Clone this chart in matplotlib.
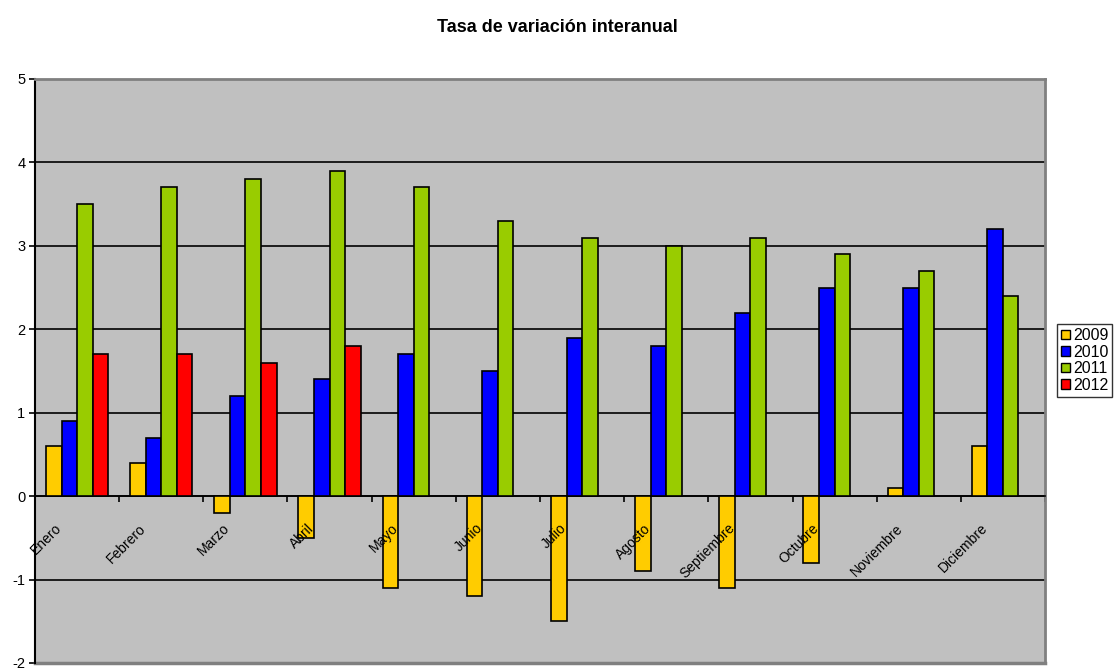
import numpy as np
import matplotlib.pyplot as plt
from matplotlib.patches import Patch

plt.rcParams['font.family'] = ['Liberation Sans', 'DejaVu Sans']
plt.rcParams['axes.unicode_minus'] = False

meses = ['Enero', 'Febrero', 'Marzo', 'Abril', 'Mayo', 'Junio', 'Julio',
         'Agosto', 'Septiembre', 'Octubre', 'Noviembre', 'Diciembre']
anios = ['2009', '2010', '2011', '2012']
v2009 = [0.6, 0.4, -0.2, -0.5, -1.1, -1.2, -1.5, -0.9, -1.1, -0.8, 0.1, 0.6]
v2010 = [0.9, 0.7, 1.2, 1.4, 1.7, 1.5, 1.9, 1.8, 2.2, 2.5, 2.5, 3.2]
v2011 = [3.5, 3.7, 3.8, 3.9, 3.7, 3.3, 3.1, 3.0, 3.1, 2.9, 2.7, 2.4]
v2012 = [1.7, 1.7, 1.6, 1.8, np.nan, np.nan, np.nan, np.nan, np.nan, np.nan, np.nan, np.nan]
colores = ['#FFCC00', '#0000FF', '#99CC00', '#FF0000']

series = [v2009, v2010, v2011, v2012]

fig = plt.figure(figsize=(11.15, 6.71), dpi=100)
ax = fig.add_axes([35 / 1115, 1 - 663 / 671, (1045 - 35) / 1115, (663 - 79) / 671])
ax.set_facecolor('#C0C0C0')

x = np.arange(len(meses))
w = 0.185
for i, (vals, c) in enumerate(zip(series, colores)):
    ax.bar(x + (i - 1.5) * w, vals, width=w, color=c, edgecolor='black',
           linewidth=1.2, zorder=3)

ax.set_xlim(-0.5, len(meses) - 0.5)
ax.set_ylim(-2, 5)
ax.set_yticks(range(-2, 6))
ax.yaxis.grid(True, color='black', linewidth=1.2, zorder=1)
ax.set_axisbelow(True)
ax.tick_params(axis='y', direction='out', length=4, width=1.2, labelsize=10.5, pad=3)

# x axis on the zero line, ticks between categories
ax.spines['bottom'].set_position(('data', 0))
ax.spines['bottom'].set_linewidth(1.2)
ax.set_xticks(np.arange(-0.5, len(meses) + 0.5, 1))
ax.set_xticklabels([])
ax.tick_params(axis='x', direction='out', length=4, width=1.2)
ax.spines['left'].set_linewidth(1.5)
for s in ['top', 'right']:
    ax.spines[s].set_color('#808080')
    ax.spines[s].set_linewidth(2)

for i, m in enumerate(meses):
    ax.text(i - 0.15, -0.3, m, rotation=45, ha='right', va='top',
            fontsize=10, fontstretch='condensed', zorder=4,
            family=['Liberation Sans Narrow', 'Liberation Sans'])

# bottom border of plot area
ax.axhline(-2, color='#808080', linewidth=2.5, zorder=2, clip_on=False)

fig.text(0.5, 1 - 27 / 671, 'Tasa de variación interanual', ha='center',
         va='center', fontsize=13, fontweight='bold')

handles = [Patch(facecolor=c, edgecolor='black', linewidth=1) for c in colores]
leg = fig.legend(handles, anios, loc='upper left',
                 bbox_to_anchor=(1057 / 1115, 1 - 324 / 671),
                 fontsize=11.5, frameon=True, fancybox=False,
                 handlelength=0.55, handleheight=0.55, handletextpad=0.2,
                 borderpad=0.25, labelspacing=0.1, borderaxespad=0)
leg.get_frame().set_edgecolor('black')
leg.get_frame().set_linewidth(1)

fig.savefig('out.png', dpi=100)
